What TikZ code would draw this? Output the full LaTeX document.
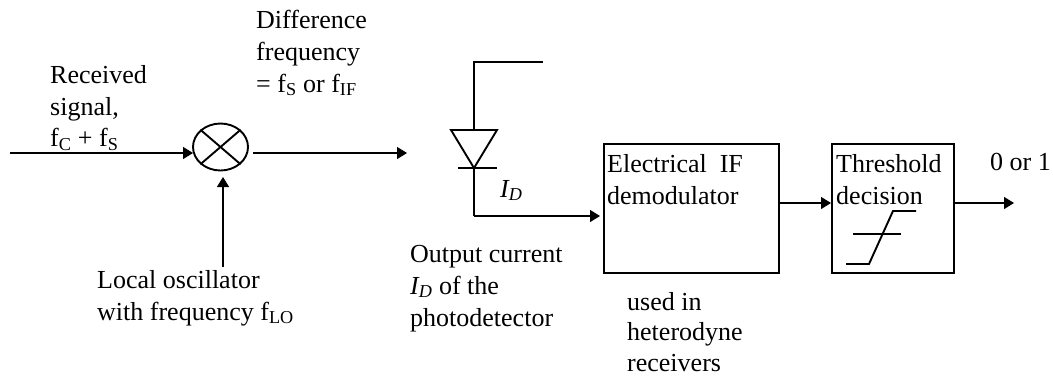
\documentclass[tikz,border=0pt]{standalone}
\usepackage{fontspec}
\setmainfont{Liberation Serif}
\usetikzlibrary{arrows.meta,shapes.geometric}
\tikzset{
	lbl/.style={align=left,inner sep=0pt,anchor=north west,font=\fontsize{26}{31.8}\selectfont},
	blockbox/.style={draw,line width=1.5pt,anchor=north west,inner sep=0pt},
	conn/.style={line width=1.4pt,-{Triangle[length=10pt,width=12pt]}},
	wire/.style={line width=1.9pt}
}
\newcommand{\sub}[1]{\textsubscript{#1}}
\begin{document}
\begin{tikzpicture}[x=1pt,y=-1pt]
	\useasboundingbox (0,0) rectangle (1053,376);
	\node[draw,ellipse,line width=1.9pt,minimum width=55pt,minimum height=47pt,inner sep=0pt] (mixer) at (220.5,147) {};
	\draw[wire] (mixer.north west) -- (mixer.south east) (mixer.north east) -- (mixer.south west);
	\node[blockbox,minimum width=175pt,minimum height=129pt] (demod) at (603,143) {};
	\node[blockbox,minimum width=122pt,minimum height=129pt] (thresh) at (831,143) {};
	\coordinate (sigin) at (10,153);
	\coordinate (sigend) at (193,153);
	\coordinate (mixout) at (253,153);
	\coordinate (mixend) at (407,153);
	\coordinate (loin) at (223,267);
	\coordinate (loend) at (223,177);
	\coordinate (biastop) at (543,62);
	\coordinate (biaselbow) at (474,62);
	\coordinate (anode) at (474,130);
	\coordinate (cathode) at (474,168);
	\coordinate (curelbow) at (474,216);
	\coordinate (curend) at (600,216);
	\coordinate (outend) at (1014,203);
	\draw[conn] (sigin) -- (sigend);
	\draw[conn] (mixout) -- (mixend);
	\draw[conn] (loin) -- (loend);
	\draw[wire] (biastop) -- (biaselbow) -- (anode);
	\draw[wire] (451,130) -- (497,130) -- (cathode) -- cycle;
	\draw[wire] (458,168) -- (497,168);
	\draw[wire] (cathode) -- (curelbow);
	\draw[conn] (curelbow) -- (curend);
	\draw[conn] (demod.east |- outend) -- (thresh.west |- outend);
	\draw[conn] (thresh.east |- outend) -- (outend);
	\draw[wire] (846,264) -- (869,264) -- (893,211) -- (916,211);
	\draw[wire] (853,234) -- (901,234);
	\node[lbl] (difflbl) at (256,10) {Difference\\frequency\\= f\sub{S} or f\sub{IF}};
	\node[lbl] (rxlbl) at (50,65) {Received\\signal,\\f\sub{C} + f\sub{S}};
	\node[lbl] (lolbl) at (97,270) {Local oscillator\\with frequency f\sub{LO}};
	\node[lbl] (idlbl) at (500,180) {\textit{I\sub{D}}};
	\node[lbl] (curlbl) at (410,245) {Output current\\\textit{I\sub{D}} of the\\photodetector};
	\node[lbl] (demodlbl) at (607,154) {Electrical\ \ IF\\demodulator};
	\node[lbl] (threshlbl) at (836,154) {Threshold\\decision};
	\node[lbl] (bitlbl) at (990,153) {0 or 1};
	\node[lbl,font=\fontsize{26}{30.7}\selectfont] (uselbl) at (627,292) {used in\\heterodyne\\receivers};
\end{tikzpicture}
\end{document}
